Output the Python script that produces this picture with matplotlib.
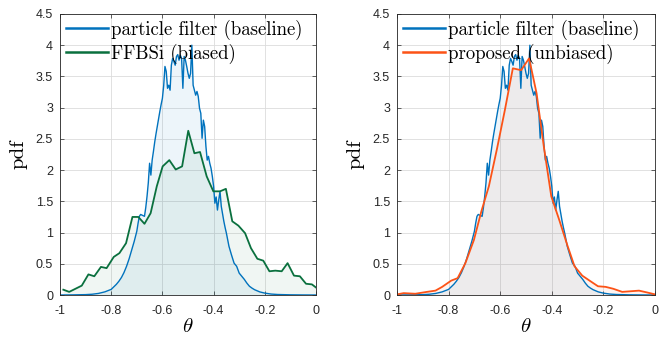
import numpy as np
import matplotlib
matplotlib.use('Agg')
import matplotlib.pyplot as plt

plt.rcParams['mathtext.fontset'] = 'cm'
plt.rcParams['font.family'] = ['Liberation Sans', 'DejaVu Sans']

# particle filter (baseline) histogram
theta_pf = [-1.0, -0.95, -0.9, -0.875, -0.85, -0.825, -0.8, -0.79, -0.78, -0.77,
            -0.76, -0.75, -0.74, -0.73, -0.72, -0.71, -0.70, -0.695, -0.69, -0.685,
            -0.68, -0.675, -0.67, -0.665, -0.66, -0.655, -0.65, -0.645, -0.64, -0.635,
            -0.63, -0.625, -0.62, -0.615, -0.61, -0.605, -0.60, -0.595, -0.59, -0.585,
            -0.58, -0.575, -0.57, -0.565, -0.56, -0.555, -0.55, -0.545, -0.54, -0.535,
            -0.53, -0.525, -0.52, -0.515, -0.51, -0.505, -0.50, -0.495, -0.49, -0.485,
            -0.48, -0.475, -0.47, -0.465, -0.46, -0.455, -0.45, -0.445, -0.44, -0.435,
            -0.43, -0.425, -0.42, -0.415, -0.41, -0.405, -0.40, -0.395, -0.39, -0.385,
            -0.38, -0.375, -0.37, -0.365, -0.36, -0.355, -0.35, -0.34, -0.33, -0.32,
            -0.31, -0.30, -0.29, -0.28, -0.27, -0.26, -0.25, -0.24, -0.22, -0.20,
            -0.175, -0.15, -0.1, -0.05, 0.0]
pdf_pf = [0.0, 0.002, 0.006, 0.012, 0.025, 0.05, 0.09, 0.13, 0.17, 0.22,
          0.28, 0.36, 0.46, 0.58, 0.72, 0.86, 1.02, 1.15, 1.26, 1.29,
          1.28, 1.27, 1.26, 1.40, 1.58, 1.80, 2.11, 1.92, 2.16, 2.30,
          2.45, 2.58, 2.70, 2.82, 2.94, 3.05, 3.15, 3.35, 3.66, 3.58,
          3.31, 3.36, 3.28, 3.68, 3.79, 3.74, 3.68, 3.82, 3.85, 3.76,
          3.84, 3.79, 3.31, 3.82, 3.76, 3.66, 3.55, 3.47, 3.55, 4.00,
          3.36, 3.28, 3.20, 3.26, 3.18, 2.99, 2.91, 2.51, 2.80, 2.70,
          2.38, 2.16, 2.22, 2.11, 2.03, 1.90, 1.74, 1.47, 1.57, 1.36,
          1.52, 1.66, 1.42, 1.30, 1.18, 1.08, 0.99, 0.78, 0.64, 0.51,
          0.46, 0.35, 0.30, 0.25, 0.19, 0.14, 0.11, 0.085, 0.05, 0.03,
          0.015, 0.008, 0.003, 0.001, 0.0]

# FFBSi (biased)
theta_ffbsi = [-0.987, -0.964, -0.915, -0.889, -0.866, -0.84, -0.818, -0.79, -0.768, -0.742,
               -0.717, -0.694, -0.67, -0.646, -0.622, -0.599, -0.573, -0.548, -0.523, -0.499,
               -0.475, -0.453, -0.427, -0.401, -0.375, -0.352, -0.327, -0.303, -0.277, -0.254,
               -0.229, -0.206, -0.182, -0.159, -0.134, -0.111, -0.086, -0.063, -0.039, -0.016, 0.0]
pdf_ffbsi = [0.085, 0.05, 0.15, 0.33, 0.30, 0.45, 0.43, 0.61, 0.67, 0.83,
             1.25, 1.25, 1.14, 1.31, 1.74, 2.06, 2.16, 2.01, 2.06, 2.63,
             2.27, 2.29, 1.90, 1.66, 1.66, 1.70, 1.18, 1.11, 0.99, 0.75,
             0.58, 0.55, 0.38, 0.39, 0.38, 0.51, 0.31, 0.30, 0.18, 0.17, 0.12]

# proposed (unbiased)
theta_prop = [-1.0, -0.974, -0.929, -0.884, -0.851, -0.825, -0.79, -0.765, -0.735, -0.702,
              -0.673, -0.644, -0.612, -0.582, -0.551, -0.519, -0.488, -0.459, -0.431, -0.402,
              -0.371, -0.34, -0.312, -0.282, -0.25, -0.221, -0.191, -0.162, -0.127, -0.094,
              -0.062, -0.03, 0.0]
pdf_prop = [0.01, 0.03, 0.02, 0.05, 0.07, 0.13, 0.23, 0.27, 0.51, 0.88,
            1.34, 1.74, 2.35, 2.96, 3.63, 3.60, 3.79, 3.23, 2.38, 1.58,
            1.20, 0.80, 0.46, 0.31, 0.22, 0.14, 0.13, 0.10, 0.05, 0.06,
            0.07, 0.04, 0.01]

xticks = [-1, -0.8, -0.6, -0.4, -0.2, 0]
xticklabels = ['-1', '-0.8', '-0.6', '-0.4', '-0.2', '0']
yticks = [0, 0.5, 1, 1.5, 2, 2.5, 3, 3.5, 4, 4.5]
yticklabels = ['0', '0.5', '1', '1.5', '2', '2.5', '3', '3.5', '4', '4.5']

blue = '#0072bd'
green = '#0a703e'
orange = '#fc5317'
axcol = '#262626'

fig = plt.figure(figsize=(6.68, 3.37), dpi=100)
ax1 = fig.add_axes([60 / 668, 42 / 337, 256 / 668, 281 / 337])
ax2 = fig.add_axes([397 / 668, 42 / 337, 258 / 668, 281 / 337])


def style(ax):
    ax.set_xlim(-1, 0)
    ax.set_ylim(0, 4.5)
    ax.set_xticks(xticks)
    ax.set_xticklabels(xticklabels)
    ax.set_yticks(yticks)
    ax.set_yticklabels(yticklabels)
    ax.grid(True, color='#dcdcdc', linewidth=0.6)
    ax.set_axisbelow(True)
    ax.tick_params(direction='in', top=True, right=True, length=3, width=0.5,
                   colors=axcol, labelsize=9, pad=5)
    ax.tick_params(axis='x', pad=7)
    for s in ax.spines.values():
        s.set_color(axcol)
        s.set_linewidth(0.6)
    ax.set_xlabel(r'$\theta$', fontsize=15, labelpad=0)
    ax.set_ylabel('pdf', family='cmr10', fontsize=15, labelpad=6)


for ax, tx, yv, col, lab in [(ax1, theta_ffbsi, pdf_ffbsi, green, 'FFBSi (biased)'),
                              (ax2, theta_prop, pdf_prop, orange, 'proposed (unbiased)')]:
    ax.fill_between(theta_pf, pdf_pf, color=blue, alpha=0.07, linewidth=0)
    ax.fill_between(tx, yv, color=col, alpha=0.06, linewidth=0)
    ax.plot(theta_pf, pdf_pf, color=blue, linewidth=1.0, label='particle filter (baseline)')
    ax.plot(tx, yv, color=col, linewidth=1.3, label=lab)
    style(ax)
    leg = ax.legend(loc='upper left', bbox_to_anchor=(0.0, 1.0), frameon=False,
                    borderaxespad=0.0, borderpad=0.3, handlelength=2.25,
                    handletextpad=0.16, labelspacing=0.2,
                    prop={'family': 'cmr10', 'size': 13.5})
    for h in leg.get_lines():
        h.set_linewidth(1.8)

fig.savefig('out.png', dpi=100)
